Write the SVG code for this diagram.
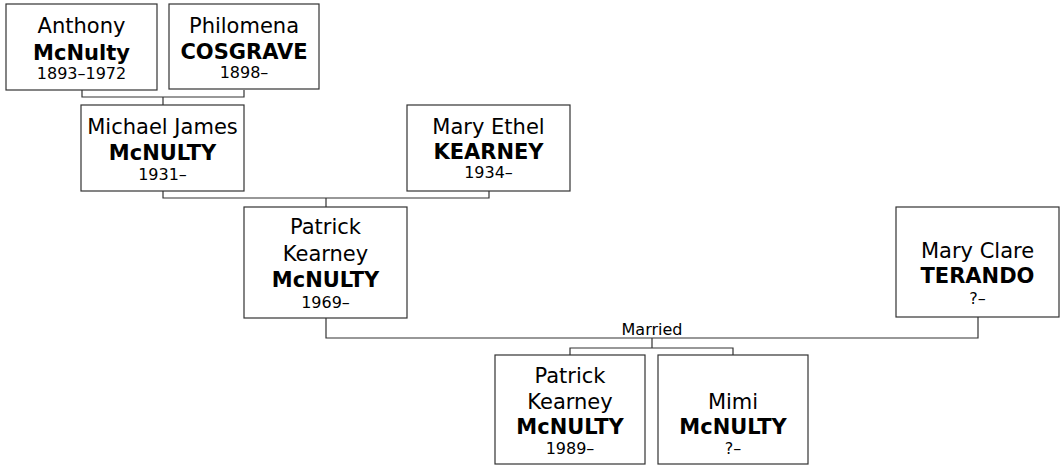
<svg xmlns="http://www.w3.org/2000/svg" width="1062" height="466" viewBox="0 0 1062 466">
<style>
.box{fill:#fff;stroke:#333;stroke-width:1.2}
.n{font-family:"DejaVu Sans",Verdana,sans-serif;font-size:21px;fill:#000;text-anchor:middle}
.b{font-weight:bold}
.d{font-family:"DejaVu Sans",Verdana,sans-serif;font-size:16px;fill:#000;text-anchor:middle}
.c{fill:none;stroke:#333;stroke-width:1.2}
</style>
<rect width="1062" height="466" fill="#fff"/>
<g id="connectors">
<path class="c" d="M82,90V97H244V90M163,97V105"/>
<path class="c" d="M163,191V198H489V191M326,198V207"/>
<path class="c" d="M326,318V338H978V317"/>
<path class="c" d="M652,338V348M570,355V348H733V355"/>
<text class="d" x="652" y="335">Married</text>
</g>
<g id="anthony">
<rect class="box" x="6" y="4" width="151" height="86"/>
<text class="n" x="81.5" y="33">Anthony</text>
<text class="n b" x="81.5" y="60">McNulty</text>
<text class="d" x="81.5" y="79">1893–1972</text>
</g>
<g id="philomena">
<rect class="box" x="169" y="4" width="150" height="85"/>
<text class="n" x="244" y="33">Philomena</text>
<text class="n b" x="244" y="59">COSGRAVE</text>
<text class="d" x="244" y="78">1898–</text>
</g>
<g id="michael">
<rect class="box" x="81" y="105" width="163" height="86"/>
<text class="n" x="162.5" y="134">Michael James</text>
<text class="n b" x="162.5" y="160">McNULTY</text>
<text class="d" x="162.5" y="180">1931–</text>
</g>
<g id="maryethel">
<rect class="box" x="407" y="105" width="163" height="86"/>
<text class="n" x="488.5" y="134">Mary Ethel</text>
<text class="n b" x="488.5" y="159">KEARNEY</text>
<text class="d" x="488.5" y="178">1934–</text>
</g>
<g id="patrick">
<rect class="box" x="244" y="207" width="163" height="111"/>
<text class="n" x="325.5" y="234">Patrick</text>
<text class="n" x="325.5" y="260.5">Kearney</text>
<text class="n b" x="325.5" y="286.5">McNULTY</text>
<text class="d" x="325.5" y="308">1969–</text>
</g>
<g id="maryclare">
<rect class="box" x="896" y="207" width="163" height="110"/>
<text class="n" x="977.5" y="258">Mary Clare</text>
<text class="n b" x="977.5" y="283">TERANDO</text>
<text class="d" x="977.5" y="304">?–</text>
</g>
<g id="patrickjr">
<rect class="box" x="495" y="355" width="150" height="109"/>
<text class="n" x="570" y="382.5">Patrick</text>
<text class="n" x="570" y="408.5">Kearney</text>
<text class="n b" x="570" y="434">McNULTY</text>
<text class="d" x="570" y="454">1989–</text>
</g>
<g id="mimi">
<rect class="box" x="658" y="355" width="150" height="109"/>
<text class="n" x="733" y="409">Mimi</text>
<text class="n b" x="733" y="434">McNULTY</text>
<text class="d" x="733" y="454">?–</text>
</g>
</svg>
